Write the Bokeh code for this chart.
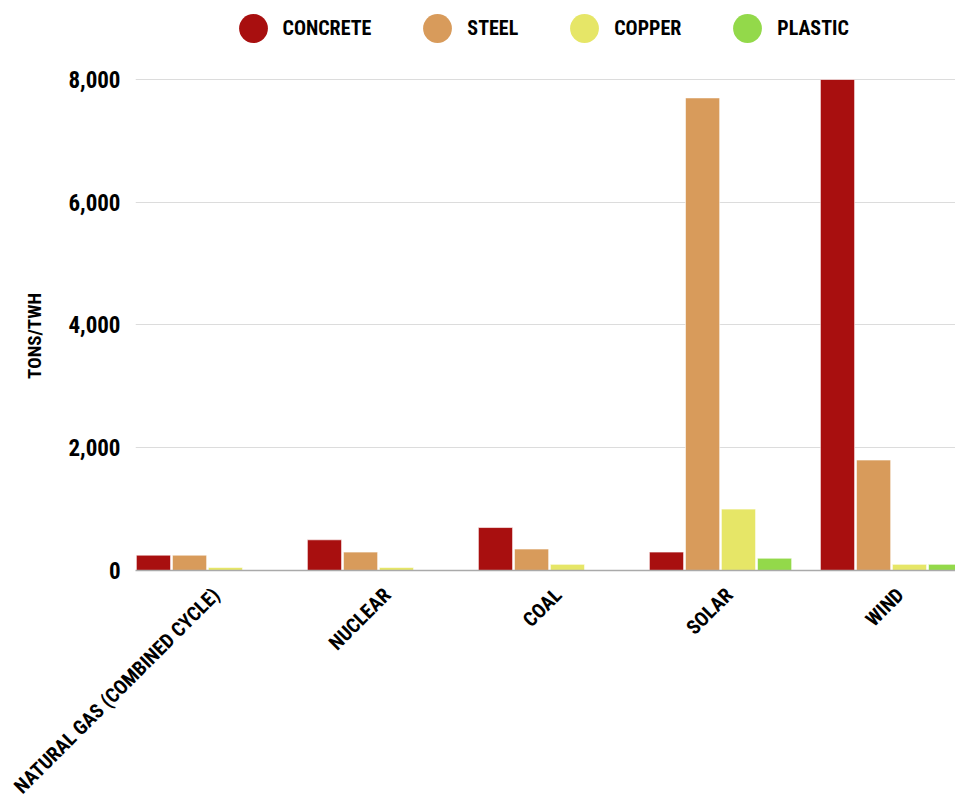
import math
from bokeh.plotting import figure
from bokeh.models import (ColumnDataSource, FixedTicker, Legend, LegendItem, Range1d)
from bokeh.embed import file_html
from bokeh.resources import INLINE

categories = ["NATURAL GAS (COMBINED CYCLE)", "NUCLEAR", "COAL", "SOLAR", "WIND"]
materials = ["CONCRETE", "STEEL", "COPPER", "PLASTIC"]
concrete = [250, 500, 700, 300, 8000]
steel = [250, 300, 350, 7700, 1800]
copper = [50, 50, 100, 1000, 100]
plastic = [0, 0, 0, 200, 100]
y_ticks = [0, 2000, 4000, 6000, 8000]
colors = ["#a80f0f", "#d89b5b", "#e6e667", "#93d94a"]

FONT = "'Roboto Condensed', 'DejaVu Sans Condensed', sans-serif"

# frame reaches the top of the page so that the legend sits inside it, above 8,000
p = figure(frame_width=820, frame_height=570, output_backend="svg", toolbar_location=None,
           x_range=Range1d(-0.421, 4.374), y_range=Range1d(0, 9287),
           min_border_left=135, min_border_right=0, min_border_top=0,
           min_border_bottom=229)
p.outline_line_color = None
p.background_fill_color = "white"
p.border_fill_color = "white"

xs = list(range(len(categories)))
series = [concrete, steel, copper, plastic]
offsets = [-0.316, -0.105, 0.105, 0.316]
for vals, off, col in zip(series, offsets, colors):
    src = ColumnDataSource(dict(x=[x + off for x in xs], top=vals))
    p.vbar(x="x", top="top", width=0.2, bottom=0, source=src,
           fill_color=col, line_color="white", line_alpha=0.6, line_width=1)

# legend with circular icons
legend_items = []
for col, name in zip(colors, materials):
    src = ColumnDataSource(dict(x=[float("nan")], y=[float("nan")], w=[29], h=[29]))
    lr = p.ellipse(x="x", y="y", width="w", height="h", width_units="screen",
                   height_units="screen", source=src, fill_color=col, line_color=None)
    legend_items.append(LegendItem(label=name, renderers=[lr]))

legend = Legend(items=legend_items, orientation="horizontal", location=(99.5, 524.5),
                glyph_width=36, glyph_height=36, label_standoff=12, spacing=48,
                padding=0, margin=0, border_line_color=None, background_fill_alpha=0,
                label_text_font=FONT, label_text_font_style="bold",
                label_text_font_size="20px", label_text_color="black")
p.add_layout(legend, "center")

# axes
tick_pos = [x + 0.05 for x in xs]
p.xaxis.ticker = FixedTicker(ticks=tick_pos)
p.xaxis.major_label_overrides = {t: c for t, c in zip(tick_pos, categories)}
p.xaxis.major_label_orientation = math.pi / 4
p.xaxis.major_label_text_font = FONT
p.xaxis.major_label_text_font_style = "bold"
p.xaxis.major_label_text_font_size = "20px"
p.xaxis.major_label_text_color = "black"
p.xaxis.major_tick_line_color = None
p.xaxis.major_tick_out = 0
p.xaxis.minor_tick_line_color = None
p.xaxis.axis_line_color = "#aaaaaa"
p.xaxis.axis_line_width = 1.5
p.xaxis.major_label_standoff = 21

p.yaxis.ticker = FixedTicker(ticks=y_ticks)
p.yaxis.major_label_overrides = {t: f"{t:,}" for t in y_ticks}
p.yaxis.major_label_text_font = FONT
p.yaxis.major_label_text_font_style = "bold"
p.yaxis.major_label_text_font_size = "23px"
p.yaxis.major_label_text_color = "black"
p.yaxis.major_tick_line_color = None
p.yaxis.major_tick_out = 0
p.yaxis.minor_tick_line_color = None
p.yaxis.axis_line_color = None
p.yaxis.major_label_standoff = 15
# trailing no-break spaces move the centred title down to the middle of the 0-8,000 span
p.yaxis.axis_label = "TONS/TWH" + "\u00a0" * 23
p.yaxis.axis_label_text_font = FONT
p.yaxis.axis_label_text_font_style = "bold"
p.yaxis.axis_label_text_font_size = "19px"
p.yaxis.axis_label_text_color = "black"
p.yaxis.axis_label_standoff = 19

p.xgrid.grid_line_color = None
p.ygrid.grid_line_color = "#dcdcdc"
p.ygrid.grid_line_width = 1

open("out.html", "w").write(file_html(p, INLINE))
